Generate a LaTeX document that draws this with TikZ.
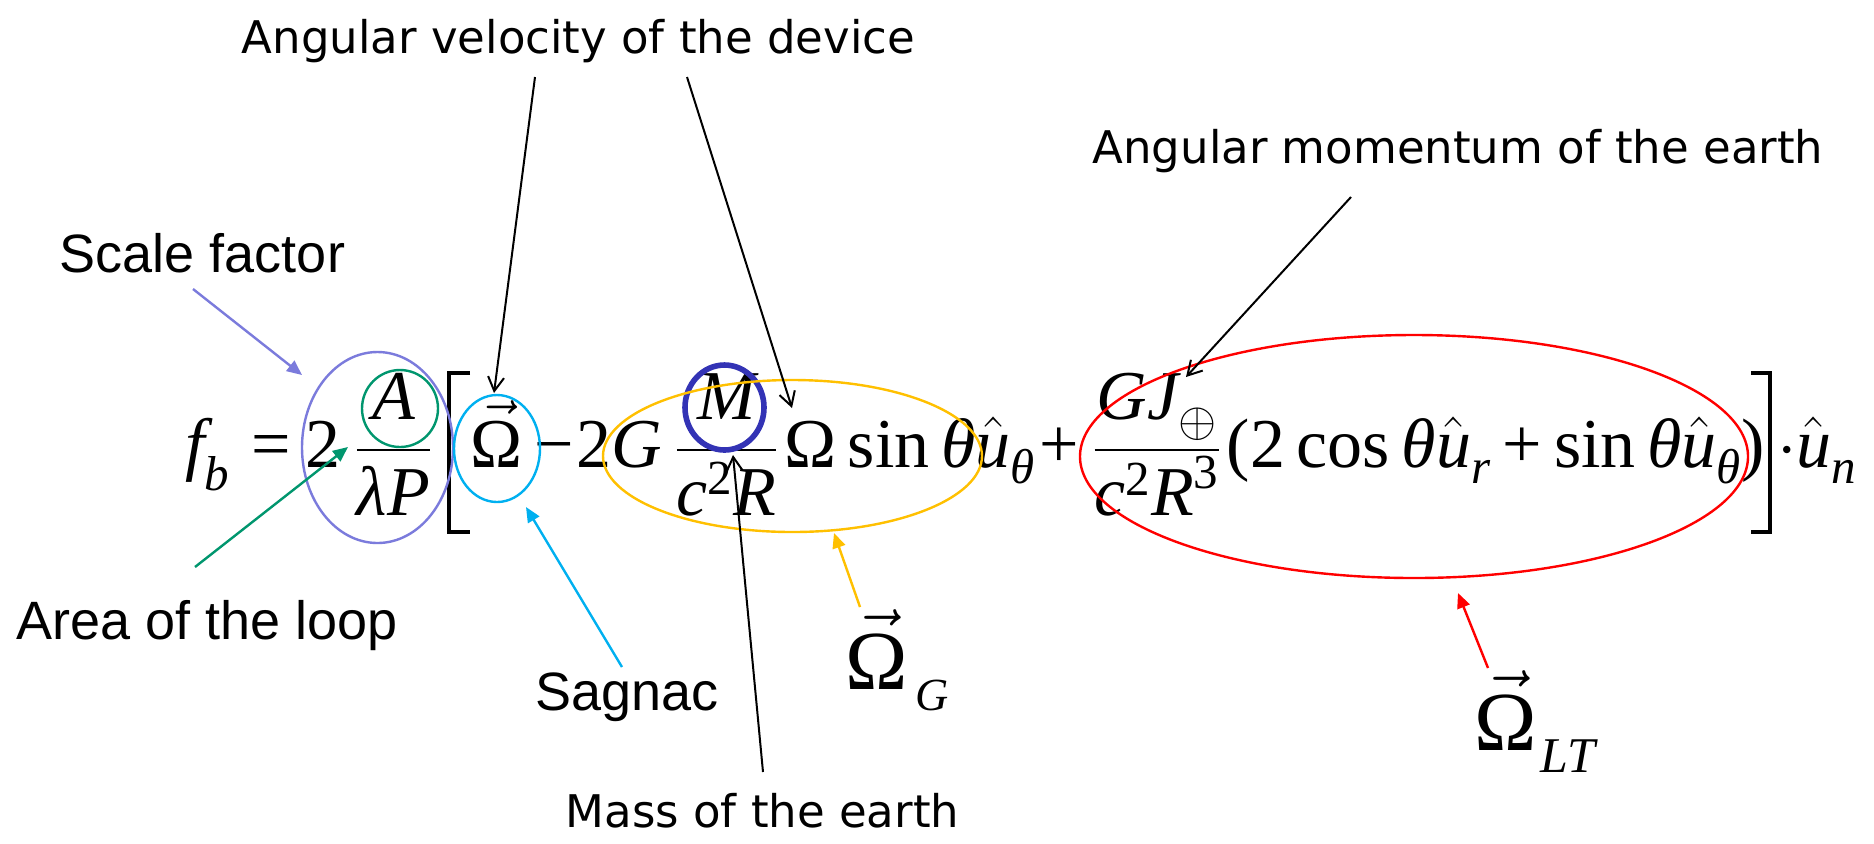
\RequirePackage{fix-cm}
\documentclass[tikz,border=0pt]{standalone}
\usepackage{amsmath}
\usepackage[no-math]{fontspec}
\setmainfont{Liberation Serif}
\newfontfamily\arialf{Liberation Sans}
\newfontfamily\comicf{DejaVu Sans}
\usetikzlibrary{arrows.meta,shapes.geometric}
\newcommand\vI[1]{\text{\itshape #1}}
\newcommand\vR[1]{\text{\upshape #1}}
\newcommand\lowsub[1]{_{\lower3pt\hbox{$\scriptstyle #1$}}}
\definecolor{sfpurple}{RGB}{123,123,220}
\definecolor{areagreen}{RGB}{0,150,110}
\definecolor{sagcyan}{RGB}{0,176,240}
\definecolor{massblue}{RGB}{51,51,181}
\definecolor{gorange}{RGB}{255,192,0}
\definecolor{ltred}{RGB}{255,0,0}
\begin{document}
\begin{tikzpicture}[x=0.5pt,y=-0.5pt,
  eqn/.style={inner sep=0pt, anchor=base, font=\fontsize{35pt}{42pt}\selectfont},
  bigom/.style={inner sep=0pt, anchor=base west, font=\fontsize{42pt}{50pt}\selectfont},
  lbl/.style={inner sep=0pt, anchor=base, font=\arialf\fontsize{27pt}{32pt}\selectfont},
  cmc/.style={inner sep=0pt, anchor=base, font=\comicf\fontsize{22.5pt}{27pt}\selectfont},
  ring/.style={draw, ellipse, inner sep=0pt, line width=1.2pt},
  fillarrow/.style={-{Triangle[length=7.5pt,width=6.5pt]}, line width=1.2pt},
  blackarrow/.style={-{Straight Barb[length=7pt,width=8pt]}, line width=1pt},
  brk/.style={line width=2.2pt}]
\fill[white] (0,0) rectangle (1874,843);
\useasboundingbox (0,0) rectangle (1874,843);

% equation pieces
\node[eqn] (fb) at (208,467) {$\vI{f}\lowsub{\vI{b}}$};
\node[eqn] (eq) at (271,467) {$\vR{=}$};
\node[eqn] (two) at (323,467) {$\vR{2}$};
\node[eqn] (fracA) at (393.5,467) {$\dfrac{\vI{A}}{\vI{λ}\vI{P}}$};
\node[eqn] (omvec) at (497,467) {$\vec{\vR{Ω}}$};
\node[eqn] (minus) at (554,467) {$\vR{−}$};
\node[eqn] (twoG) at (619,467) {$\vR{2}\vI{G}$};
\node[eqn] (fracM) at (726.5,467) {$\dfrac{\vI{M}}{\vI{c}^{\vR{2}}\vI{R}}$};
\node[eqn] (omsin) at (910,467) {$\vR{Ω}\,\vR{sin}\,\vI{θ}\hat{\vI{u}}\lowsub{\vI{θ}}$};
\node[eqn] (plus) at (1059,467) {$\vR{+}$};
\node[eqn] (fracGJ) at (1157,467) {$\dfrac{\vI{G}\vI{J}\lowsub{\oplus}}{\vI{c}^{\vR{2}}\vI{R}^{\vR{3}}}$};
\node[eqn] (paren) at (1496,467) {$\vR{(}\vR{2}\,\vR{cos}\,\vI{θ}\hat{\vI{u}}\lowsub{\vI{r}}\,\vR{+}\,\vR{sin}\,\vI{θ}\hat{\vI{u}}\lowsub{\vI{θ}}\vR{)}$};
\node[eqn] (dotun) at (1817,467) {$\cdot\hat{\vI{u}}\lowsub{\vI{n}}$};
\draw[brk] (470,373) -- (449,373) -- (449,532) -- (470,532);
\draw[brk] (1751,373) -- (1770,373) -- (1770,532) -- (1751,532);

\node[bigom] (omG) at (845,689) {$\vec{\vR{Ω}}$\kern4pt\raisebox{-10.5pt}{\itshape\fontsize{23pt}{27pt}\selectfont G}};
\node[bigom] (omLT) at (1474,750) {$\vec{\vR{Ω}}$\kern2pt\raisebox{-11pt}{\itshape\fontsize{25pt}{29pt}\selectfont LT}};

% rings
\node[ring, sfpurple, minimum width=75.5pt, minimum height=95.5pt] (sfring) at (377.5,447.5) {};
\node[ring, areagreen, minimum width=38pt, minimum height=38.5pt] (aring) at (400,408.5) {};
\node[ring, sagcyan, minimum width=43pt, minimum height=53.5pt] (sring) at (497,448.5) {};
\node[ring, massblue, line width=2.8pt, minimum width=39.5pt, minimum height=42.5pt] (mring) at (724.5,407.5) {};
\node[ring, gorange, minimum width=189.5pt, minimum height=76pt] (gring) at (792.5,456) {};
\node[ring, ltred, minimum width=334pt, minimum height=121.5pt] (ltring) at (1414,456.5) {};

% labels
\node[lbl] (scale) at (202.5,272) {Scale factor};
\node[lbl] (area) at (207,639) {Area of the loop};
\node[lbl] (sagnac) at (627,710) {Sagnac};
\node[cmc] (angvel) at (578.5,53) {Angular velocity of the device};
\node[cmc] (angmom) at (1458,163) {Angular momentum of the earth};
\node[cmc] (mass) at (762.5,827) {Mass of the earth};

% connector ends
\coordinate (sfA) at (193,289);   \coordinate (sfB) at (302,375);
\coordinate (arA) at (195,567);   \coordinate (arB) at (348,447);
\coordinate (sgA) at (622,667);   \coordinate (sgB) at (526,507);
\coordinate (ogA) at (860,607);   \coordinate (ogB) at (834,533);
\coordinate (olA) at (1488,668);  \coordinate (olB) at (1458,593);
\coordinate (av1A) at (535,77);   \coordinate (av1B) at (494,393);
\coordinate (av2A) at (687,77);   \coordinate (av2B) at (792,408);
\coordinate (msA) at (763,772);   \coordinate (msB) at (733,455);
\coordinate (amA) at (1351,197);  \coordinate (amB) at (1186,377);

\draw[fillarrow, sfpurple] (sfA) -- (sfB);
\draw[fillarrow, areagreen] (arA) -- (arB);
\draw[fillarrow, sagcyan] (sgA) -- (sgB);
\draw[fillarrow, gorange] (ogA) -- (ogB);
\draw[fillarrow, ltred] (olA) -- (olB);
\draw[blackarrow] (av1A) -- (av1B);
\draw[blackarrow] (av2A) -- (av2B);
\draw[blackarrow] (msA) -- (msB);
\draw[blackarrow] (amA) -- (amB);
\end{tikzpicture}
\end{document}
